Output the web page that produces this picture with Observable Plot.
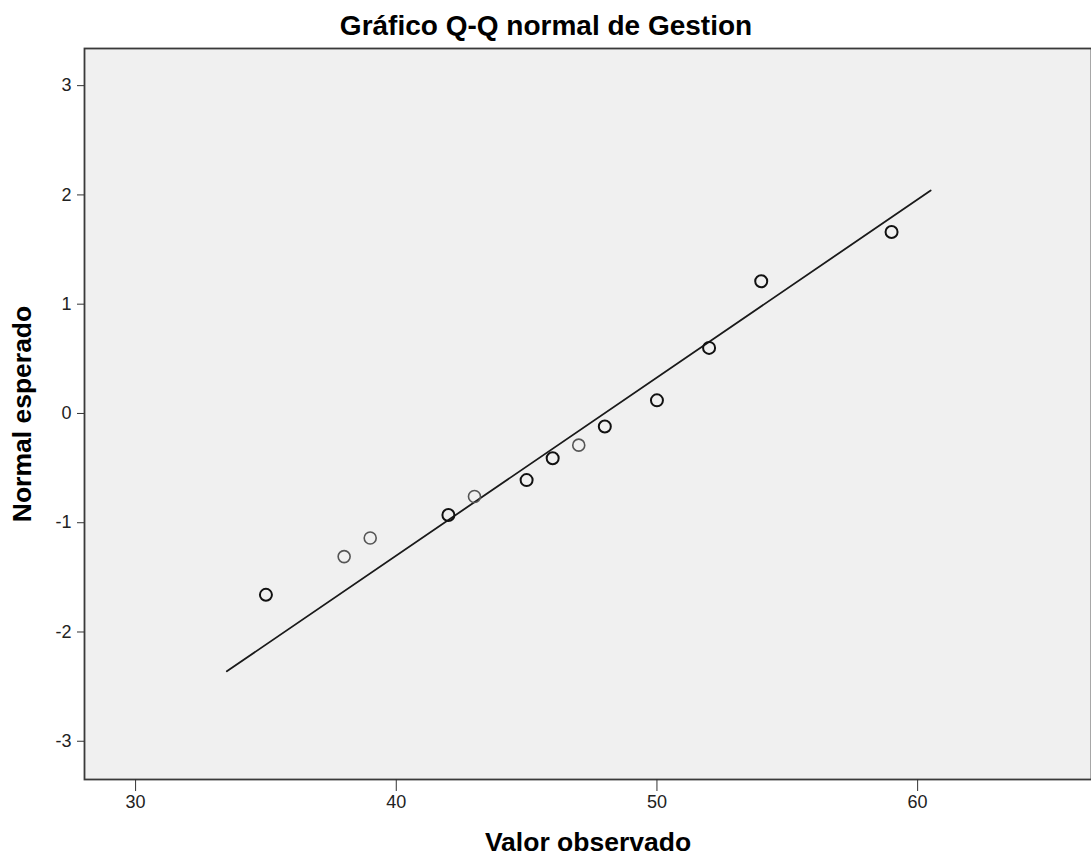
<!DOCTYPE html>
<html>
<head>
<meta charset="utf-8">
<script src="https://cdn.jsdelivr.net/npm/d3@7"></script>
<script src="https://cdn.jsdelivr.net/npm/@observablehq/plot@0.6"></script>
<style>
  html, body { margin: 0; padding: 0; background: #fff; }
  #chart svg { display: block; }
</style>
</head>
<body>
<div id="chart"></div>
<script>
// ---- data ----
const chartTitle = "Gráfico Q-Q normal de Gestion";
const xLabel = "Valor observado";
const yLabel = "Normal esperado";

const observedValues = [35, 38, 39, 42, 43, 45, 46, 47, 48, 50, 52, 54, 59];
const expectedNormal = [-1.66, -1.31, -1.14, -0.93, -0.76, -0.61, -0.41, -0.29, -0.12, 0.12, 0.60, 1.21, 1.66];
const tieCounts      = [2, 1, 1, 2, 1, 2, 2, 1, 2, 2, 2, 2, 2];

const refLineX = [33.5, 60.5];
const refLineY = [-2.36, 2.04];

const xTicks = [30, 40, 50, 60];
const yTicks = [-3, -2, -1, 0, 1, 2, 3];
const xDomain = [28.04, 66.67];
const yDomain = [-3.35, 3.34];

// ---- tables built from the arrays ----
const points = observedValues.map((v, i) => ({x: v, y: expectedNormal[i], n: tieCounts[i]}));
const refLine = refLineX.map((v, i) => ({x: v, y: refLineY[i]}));

const font = "'Liberation Sans', Arial, sans-serif";

const chart = Plot.plot({
  width: 1091,
  height: 857,
  marginLeft: 84,
  marginTop: 48,
  marginRight: 0,
  marginBottom: 78,
  style: {fontFamily: font, fontSize: "18px", color: "#222", background: "#fff"},
  x: {domain: xDomain},
  y: {domain: yDomain},
  marks: [
    Plot.frame({fill: "#f0f0f0"}),
    Plot.line(refLine, {x: "x", y: "y", stroke: "#1a1a1a", strokeWidth: 1.8}),
    Plot.dot(points, {
      x: "x", y: "y", r: 6, fill: "none",
      stroke: d => d.n > 1 ? "#111" : "#555",
      strokeWidth: d => d.n > 1 ? 2 : 1.6
    }),
    Plot.frame({stroke: "#3a3a3a", strokeWidth: 1.8}),
    Plot.axisX({ticks: xTicks, tickSize: 12, tickPadding: 4, tickFormat: d => String(d),
      label: null, stroke: "#333", fontSize: 18, fill: "#222"}),
    Plot.axisY({ticks: yTicks, tickSize: 7, tickPadding: 6, tickFormat: d => String(d),
      label: null, stroke: "#333", fontSize: 18, fill: "#222"}),
    Plot.text([chartTitle], {frameAnchor: "top-left", dx: 461.5, dy: -22.5, textAnchor: "middle",
      lineAnchor: "middle", fontWeight: "bold", fontSize: 28, fill: "#000"}),
    Plot.text([xLabel], {frameAnchor: "bottom", dy: 63.5, textAnchor: "middle",
      lineAnchor: "middle", fontWeight: "bold", fontSize: 26.5, fill: "#000"}),
    Plot.text([yLabel], {frameAnchor: "left", dx: -61.5, rotate: -90, textAnchor: "middle",
      lineAnchor: "middle", fontWeight: "bold", fontSize: 26.5, fill: "#000"})
  ]
});

document.getElementById("chart").append(chart);
</script>
</body>
</html>
